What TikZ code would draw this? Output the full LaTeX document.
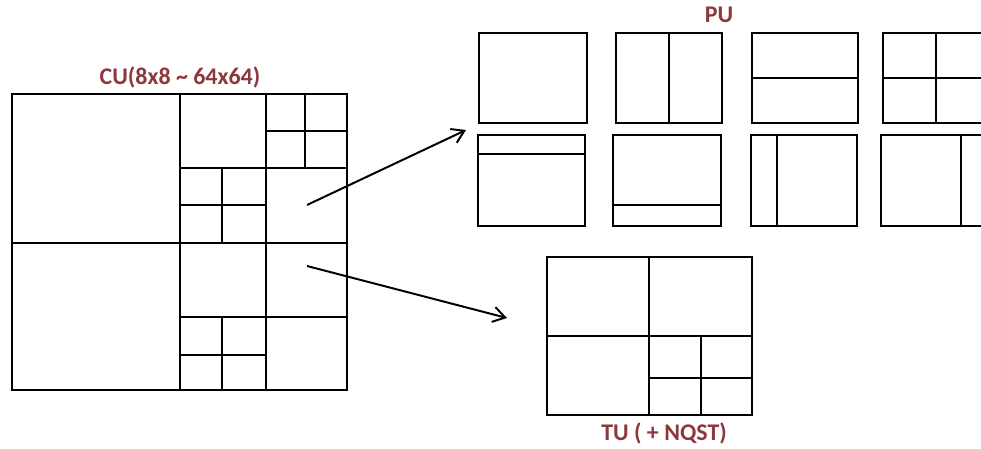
\documentclass[tikz,border=0pt]{standalone}
\usepackage{fontspec}
\usetikzlibrary{arrows.meta}
\setmainfont{Carlito}
\definecolor{lblred}{RGB}{140,56,60}
\tikzset{
	part/.style={line width=2.1pt},
	label/.style={text=lblred, font=\fontsize{17}{20}\selectfont\bfseries},
	pointer/.style={-{Straight Barb[length=3mm, width=3.8mm]}, line width=1.4pt}
}
\begin{document}
\begin{tikzpicture}[x=0.025cm, y=-0.025cm]
		\useasboundingbox (0,0) rectangle (981,448);
		\clip (0,0) rectangle (981,448);
		% CU quadtree
		\draw[part] (12,94) rectangle (347,390);
		\draw[part] (180,94) -- (180,390);
		\draw[part] (12,243) -- (347,243);
		\draw[part] (266,94) -- (266,390);
		\draw[part] (180,168) -- (347,168);
		\draw[part] (305,94) -- (305,168);
		\draw[part] (266,131) -- (347,131);
		\draw[part] (222,168) -- (222,243);
		\draw[part] (180,205) -- (266,205);
		\draw[part] (180,317) -- (347,317);
		\draw[part] (222,317) -- (222,390);
		\draw[part] (180,355) -- (266,355);
		\node[label] (cu) at (180,77) {CU(8x8 \textasciitilde{} 64x64)};
		% PU shapes
		\draw[part] (479,33) rectangle (587,123);
		\draw[part] (616,33) rectangle (722,123);
		\draw[part] (669,33) -- (669,123);
		\draw[part] (752,33) rectangle (858,123);
		\draw[part] (752,78) -- (858,78);
		\draw[part] (883,33) rectangle (990,123);
		\draw[part] (936,33) -- (936,123);
		\draw[part] (883,78) -- (990,78);
		\draw[part] (478,135) rectangle (585,226);
		\draw[part] (478,154) -- (585,154);
		\draw[part] (613,135) rectangle (721,226);
		\draw[part] (613,205) -- (721,205);
		\draw[part] (751,135) rectangle (857,226);
		\draw[part] (777,135) -- (777,226);
		\draw[part] (881,135) rectangle (988,226);
		\draw[part] (961,135) -- (961,226);
		\node[label] (pu) at (719,15) {PU};
		% TU
		\draw[part] (547,257) rectangle (752,415);
		\draw[part] (649,257) -- (649,415);
		\draw[part] (547,336) -- (752,336);
		\draw[part] (701,336) -- (701,415);
		\draw[part] (649,378) -- (752,378);
		\node[label] (tu) at (664,433) {TU ( + NQST)};
		% arrows
		\coordinate (pustart) at (307,205);
		\coordinate (puend) at (466,130);
		\coordinate (tustart) at (307,266);
		\coordinate (tuend) at (507,318);
		\draw[pointer] (pustart) -- (puend);
		\draw[pointer] (tustart) -- (tuend);
	\end{tikzpicture}
\end{document}
